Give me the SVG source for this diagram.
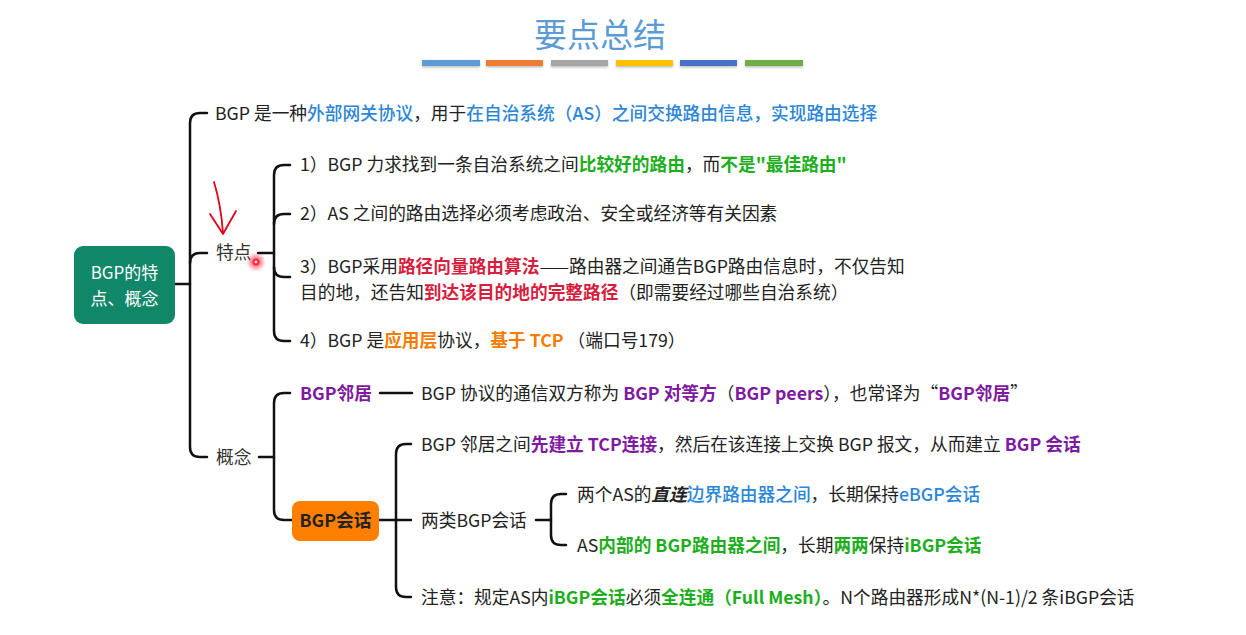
<svg xmlns="http://www.w3.org/2000/svg" width="1246" height="635" viewBox="0 0 1246 635">
<defs>
<style>
text{font-family:"Noto Sans CJK SC","Noto Sans",sans-serif;font-size:17.7px;fill:#222}
.title{font-size:33px;fill:#5B9BD5}
.root{fill:#fff;font-size:17px}
.b{fill:#2C86D6;font-weight:500}
.g{fill:#1DAE1D;font-weight:700}
.r{fill:#D61F3F;font-weight:700}
.o{fill:#F57C00;font-weight:700}
.p{fill:#7E1AA0;font-weight:700}
.bi{font-weight:700;font-style:italic}
.lbl{fill:#333}
.c{fill:none;stroke:#111;stroke-width:2.5;stroke-linecap:round;stroke-linejoin:round}
.bar{filter:url(#sh)}
</style>
<filter id="sh" x="-10%" y="-50%" width="120%" height="250%"><feDropShadow dx="0" dy="1.5" stdDeviation="1" flood-color="#000" flood-opacity="0.25"/></filter>
<radialGradient id="glow"><stop offset="0" stop-color="#ff0020" stop-opacity="0.9"/><stop offset="0.5" stop-color="#ff2040" stop-opacity="0.45"/><stop offset="1" stop-color="#ff4060" stop-opacity="0"/></radialGradient>
</defs>
<rect width="1246" height="635" fill="#fff"/>

<g id="title">
<text class="title" x="600" y="47" text-anchor="middle">要点总结</text>
<rect class="bar" x="422" y="60" width="58" height="6" fill="#5B9BD5"/>
<rect class="bar" x="486" y="60" width="57" height="6" fill="#ED7D31"/>
<rect class="bar" x="551" y="60" width="57" height="6" fill="#A5A5A5"/>
<rect class="bar" x="616" y="60" width="57" height="6" fill="#FFC000"/>
<rect class="bar" x="680" y="60" width="57" height="6" fill="#4472C4"/>
<rect class="bar" x="745" y="60" width="58" height="6" fill="#70AD47"/>
</g>

<g id="connectors">
<path class="c" d="M175 284 H190"/>
<path class="c" d="M207 113 H200 Q190 113 190 123 V447 Q190 457 200 457 H207"/>
<path class="c" d="M190 263 Q190 253 200 253 H207"/>
<path class="c" d="M258 253 H274"/>
<path class="c" d="M290 165 H284 Q274 165 274 175 V331 Q274 341 284 341 H290"/>
<path class="c" d="M274 224 Q274 214 284 214 H290"/>
<path class="c" d="M274 267 Q274 277 284 277 H290"/>
<path class="c" d="M259 457 H274"/>
<path class="c" d="M290 393 H284 Q274 393 274 403 V510 Q274 520 284 520 H292"/>
<path class="c" d="M380 393 H412"/>
<path class="c" d="M379 520 H411"/>
<path class="c" d="M411 444 H406 Q396 444 396 454 V587 Q396 597 406 597 H411"/>
<path class="c" d="M536 520 H551"/>
<path class="c" d="M566 494 H561 Q551 494 551 504 V535 Q551 545 561 545 H566"/>
</g>

<g id="root">
<rect x="74" y="246" width="101" height="78" rx="9" fill="#11876A"/>
<text class="root" x="124.5" y="279" text-anchor="middle">BGP的特</text>
<text class="root" x="124.5" y="305" text-anchor="middle">点、概念</text>
</g>

<g id="definition">
<text x="215" y="119.5">BGP 是一种<tspan class="b">外部网关协议</tspan>，用于<tspan class="b">在自治系统（AS）之间交换路由信息，实现路由选择</tspan></text>
</g>

<g id="features">
<text class="lbl" x="216" y="259">特点</text>
</g>
<g id="feature1"><text x="300" y="171">1）BGP 力求找到一条自治系统之间<tspan class="g">比较好的路由</tspan>，而<tspan class="g">不是"最佳路由"</tspan></text></g>
<g id="feature2"><text x="300" y="220">2）AS 之间的路由选择必须考虑政治、安全或经济等有关因素</text></g>
<g id="feature3">
<text x="300" y="273">3）BGP采用<tspan class="r">路径向量路由算法</tspan>——路由器之间通告BGP路由信息时，不仅告知</text>
<text x="300" y="299">目的地，还告知<tspan class="r">到达该目的地的完整路径</tspan>（即需要经过哪些自治系统）</text>
</g>
<g id="feature4"><text x="300" y="347">4）BGP 是<tspan class="o">应用层</tspan>协议，<tspan class="o">基于 TCP</tspan> （端口号179）</text></g>

<g id="concepts"><text class="lbl" x="216" y="464">概念</text></g>
<g id="bgp-neighbor">
<text class="p" x="300" y="399.5">BGP邻居</text>
</g>
<g id="neighbor-desc"><text x="421" y="399.5">BGP 协议的通信双方称为 <tspan class="p">BGP 对等方</tspan>（<tspan class="p">BGP peers</tspan>），也常译为“<tspan class="p">BGP邻居</tspan>”</text></g>

<g id="bgp-session">
<rect x="292" y="501" width="87" height="40" rx="8" fill="#FF8000"/>
<text x="335.5" y="527" text-anchor="middle" font-weight="700" fill="#111">BGP会话</text>
</g>
<g id="session1"><text x="421" y="451">BGP 邻居之间<tspan class="p">先建立 TCP连接</tspan>，然后在该连接上交换 BGP 报文，从而建立 <tspan class="p">BGP 会话</tspan></text></g>
<g id="session-types"><text x="421" y="527">两类BGP会话</text></g>
<g id="ebgp"><text x="577" y="501">两个AS的<tspan class="bi">直连</tspan><tspan class="b">边界路由器之间</tspan>，长期保持<tspan class="b">eBGP会话</tspan></text></g>
<g id="ibgp"><text x="577" y="552">AS<tspan class="g">内部的 BGP路由器之间</tspan>，长期<tspan class="g">两两</tspan>保持<tspan class="g">iBGP会话</tspan></text></g>
<g id="note"><text x="421" y="603.5">注意：规定AS内<tspan class="g">iBGP会话</tspan>必须<tspan class="g">全连通（Full Mesh）</tspan>。N个路由器形成N*(N-1)/2 条iBGP会话</text></g>

<g id="annotation">
<path d="M214 182 Q221 205 223 233" fill="none" stroke="#E0001B" stroke-width="1.8" stroke-linecap="round"/>
<path d="M210 214 L223 234 L236 211" fill="none" stroke="#E0001B" stroke-width="1.8" stroke-linecap="round" stroke-linejoin="round"/>
<circle cx="256" cy="262" r="10" fill="url(#glow)"/>
<circle cx="256" cy="262" r="3.5" fill="#ff2a3a"/>
<circle cx="256" cy="262" r="1.4" fill="#ffd0d8"/>
</g>
</svg>
